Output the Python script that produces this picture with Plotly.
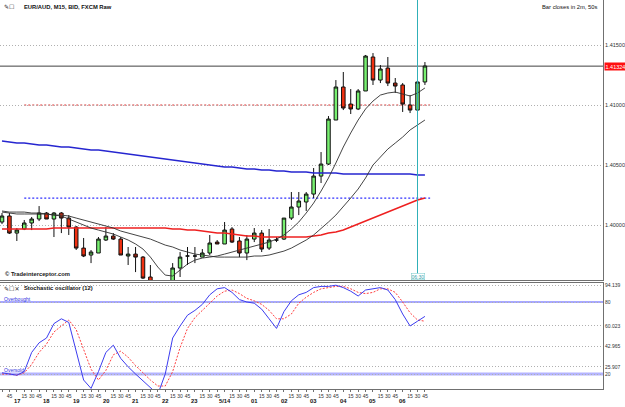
import plotly.graph_objects as go

# ---------------- data ----------------
bars = list(range(58))  # 15-minute bars from 16:30 to 06:45

opens = [1.40025, 1.40075, 1.39933, 1.39967, 1.40017, 1.40050, 1.40100, 1.40050, 1.40100, 1.40058,
         1.39983, 1.39808, 1.39750, 1.39767, 1.39875, 1.39908, 1.39883, 1.39742, 1.39758, 1.39733,
         1.39567, 1.39250, 1.39050, 1.39200, 1.39642, 1.39742, 1.39742, 1.39733, 1.39767, 1.39858,
         1.39842, 1.39967, 1.39867, 1.39767, 1.39883, 1.39933, 1.39808, 1.39875, 1.39883, 1.40058,
         1.40150, 1.40192, 1.40258, 1.40408, 1.40508, 1.40875, 1.41150, 1.41008, 1.40967, 1.41117,
         1.41400, 1.41208, 1.41308, 1.41183, 1.41167, 1.41000, 1.40958, 1.41192]
highs = [1.40100, 1.40100, 1.39975, 1.40042, 1.40067, 1.40158, 1.40108, 1.40108, 1.40108, 1.40083,
         1.39992, 1.39892, 1.39792, 1.39900, 1.39983, 1.39933, 1.39900, 1.39817, 1.39817, 1.39742,
         1.39667, 1.39380, 1.39300, 1.39683, 1.39775, 1.39817, 1.39817, 1.39800, 1.39917, 1.39875,
         1.40025, 1.39983, 1.39900, 1.39917, 1.39975, 1.39958, 1.39967, 1.39900, 1.40058, 1.40275,
         1.40275, 1.40275, 1.40475, 1.40608, 1.40908, 1.41208, 1.41275, 1.41133, 1.41133, 1.41417,
         1.41433, 1.41333, 1.41400, 1.41225, 1.41183, 1.41083, 1.41225, 1.41358]
lows = [1.40008, 1.39925, 1.39867, 1.39958, 1.39958, 1.40033, 1.40050, 1.39900, 1.39933, 1.39917,
        1.39792, 1.39733, 1.39683, 1.39767, 1.39867, 1.39875, 1.39750, 1.39667, 1.39608, 1.39550,
        1.39150, 1.38950, 1.38980, 1.39150, 1.39567, 1.39667, 1.39683, 1.39733, 1.39750, 1.39842,
        1.39842, 1.39850, 1.39733, 1.39708, 1.39858, 1.39775, 1.39792, 1.39858, 1.39875, 1.40042,
        1.40083, 1.40117, 1.40225, 1.40350, 1.40500, 1.40875, 1.40958, 1.40925, 1.40958, 1.41117,
        1.41167, 1.41183, 1.41158, 1.41100, 1.40942, 1.40933, 1.40900, 1.41167]
closes = [1.40075, 1.39933, 1.39958, 1.40017, 1.40050, 1.40100, 1.40050, 1.40100, 1.40058, 1.39983,
          1.39808, 1.39742, 1.39775, 1.39883, 1.39908, 1.39883, 1.39750, 1.39758, 1.39733, 1.39558,
          1.39250, 1.39050, 1.39200, 1.39642, 1.39733, 1.39742, 1.39742, 1.39767, 1.39850, 1.39842,
          1.39958, 1.39858, 1.39767, 1.39883, 1.39933, 1.39800, 1.39875, 1.39875, 1.40058, 1.40150,
          1.40200, 1.40258, 1.40408, 1.40508, 1.40883, 1.41150, 1.40975, 1.40967, 1.41117, 1.41408,
          1.41208, 1.41300, 1.41183, 1.41158, 1.41008, 1.40958, 1.41192, 1.41325]

ma_blue = [1.40700, 1.40692, 1.40683, 1.40683, 1.40675, 1.40667, 1.40667, 1.40658, 1.40650, 1.40650,
           1.40642, 1.40633, 1.40625, 1.40625, 1.40617, 1.40608, 1.40600, 1.40592, 1.40583, 1.40575,
           1.40567, 1.40558, 1.40550, 1.40542, 1.40533, 1.40525, 1.40517, 1.40508, 1.40500, 1.40492,
           1.40483, 1.40483, 1.40475, 1.40467, 1.40467, 1.40458, 1.40458, 1.40450, 1.40450, 1.40442,
           1.40442, 1.40442, 1.40433, 1.40433, 1.40433, 1.40433, 1.40425, 1.40425, 1.40425, 1.40425,
           1.40425, 1.40425, 1.40425, 1.40425, 1.40425, 1.40425, 1.40417, 1.40417]
ma_red = [1.39967, 1.39967, 1.39967, 1.39967, 1.39967, 1.39967, 1.39967, 1.39975, 1.39975, 1.39975,
          1.39975, 1.39975, 1.39975, 1.39975, 1.39975, 1.39975, 1.39975, 1.39975, 1.39975, 1.39975,
          1.39975, 1.39975, 1.39975, 1.39967, 1.39967, 1.39958, 1.39958, 1.39950, 1.39942, 1.39933,
          1.39933, 1.39925, 1.39917, 1.39908, 1.39908, 1.39900, 1.39900, 1.39900, 1.39900, 1.39900,
          1.39900, 1.39900, 1.39908, 1.39917, 1.39933, 1.39942, 1.39958, 1.39983, 1.40008, 1.40033,
          1.40058, 1.40083, 1.40108, 1.40133, 1.40158, 1.40183, 1.40208, 1.40225]
ma_fast = [1.40108, 1.40100, 1.40092, 1.40092, 1.40092, 1.40092, 1.40092, 1.40083, 1.40075, 1.40050,
           1.40025, 1.40000, 1.39975, 1.39958, 1.39942, 1.39925, 1.39900, 1.39875, 1.39842, 1.39800,
           1.39733, 1.39650, 1.39583, 1.39575, 1.39625, 1.39675, 1.39708, 1.39725, 1.39733, 1.39742,
           1.39758, 1.39775, 1.39792, 1.39808, 1.39825, 1.39842, 1.39858, 1.39883, 1.39917, 1.39967,
           1.40025, 1.40100, 1.40183, 1.40283, 1.40392, 1.40517, 1.40650, 1.40767, 1.40875, 1.40967,
           1.41033, 1.41083, 1.41100, 1.41108, 1.41092, 1.41075, 1.41100, 1.41142]
ma_slow = [1.40117, 1.40108, 1.40108, 1.40108, 1.40100, 1.40100, 1.40092, 1.40083, 1.40083, 1.40075,
           1.40058, 1.40042, 1.40025, 1.40008, 1.39992, 1.39975, 1.39950, 1.39933, 1.39917, 1.39900,
           1.39883, 1.39858, 1.39833, 1.39817, 1.39792, 1.39775, 1.39758, 1.39750, 1.39742, 1.39733,
           1.39733, 1.39733, 1.39733, 1.39733, 1.39742, 1.39742, 1.39750, 1.39767, 1.39783, 1.39808,
           1.39842, 1.39875, 1.39917, 1.39967, 1.40025, 1.40083, 1.40150, 1.40225, 1.40300, 1.40392,
           1.40500, 1.40567, 1.40633, 1.40683, 1.40733, 1.40792, 1.40833, 1.40875]

stoch_k = [21, 20, 19, 22, 38, 46, 50, 62, 66, 63, 40, 15, 8, 22, 38, 44, 33, 26, 20, 14,
           8, 3, 20, 50, 60, 69, 73, 78, 86, 91, 92, 88, 82, 80, 79, 74, 66, 58, 72, 81,
           86, 88, 92, 93, 93, 94, 92, 89, 85, 90, 91, 92, 90, 82, 70, 60, 64, 68]
stoch_d = [20, 20, 19, 21, 28, 38, 45, 55, 60, 65, 57, 40, 24, 15, 23, 36, 39, 34, 27, 21,
           15, 10, 10, 22, 42, 58, 67, 73, 79, 85, 89, 90, 87, 83, 81, 78, 73, 66, 66, 70,
           79, 84, 88, 91, 92, 93, 93, 91, 88, 87, 88, 91, 91, 88, 80, 71, 65, 64]

minute_labels = ["30", "45"] + ["", "15", "30", "45"] * 14
hour_labels = ["17", "18", "19", "20", "21", "22", "23", "5/14", "01", "02", "03", "04", "05", "06"]
hour_bars = [2, 6, 10, 14, 18, 22, 26, 30, 34, 38, 42, 46, 50, 54]

price_ticks = [1.40, 1.405, 1.41, 1.415]
price_tick_text = ["1.40000", "1.40500", "1.41000", "1.41500"]
stoch_ticks = [94.139, 80, 60.023, 42.965, 25.907, 20]
stoch_tick_text = ["94.139", "80", "60.023", "42.965", "25.907", "20"]
last_price = 1.41324
level_red = 1.41
level_blue = 1.40225
cursor_bar = 56

# ---------------- figure ----------------
H_PLOT = 389.0
def py(px):
    return 1 - px / H_PLOT

main_dom = [py(280), 1.0]
stoch_dom = [0.0, py(283)]
XR = [-0.27, 81.0]
FONT = "Liberation Sans"
GRID_DASH = "1px,2px"

fig = go.Figure()
fig.add_trace(go.Scatter(x=bars, y=ma_blue, mode="lines", line=dict(color="#2626d0", width=1.6),
                         xaxis="x", yaxis="y", hoverinfo="skip"))
fig.add_trace(go.Scatter(x=bars, y=ma_red, mode="lines", line=dict(color="#ee2020", width=1.6),
                         xaxis="x", yaxis="y", hoverinfo="skip"))
fig.add_trace(go.Scatter(x=bars, y=ma_slow, mode="lines", line=dict(color="#303030", width=0.9),
                         xaxis="x", yaxis="y", hoverinfo="skip"))
fig.add_trace(go.Scatter(x=bars, y=ma_fast, mode="lines", line=dict(color="#303030", width=0.9),
                         xaxis="x", yaxis="y", hoverinfo="skip"))
fig.add_trace(go.Candlestick(
    x=bars, open=opens, high=highs, low=lows, close=closes, xaxis="x", yaxis="y",
    increasing=dict(fillcolor="#78f070", line=dict(color="#101010", width=1)),
    decreasing=dict(fillcolor="#f03010", line=dict(color="#101010", width=1)),
    whiskerwidth=0))

fig.add_trace(go.Scatter(x=bars, y=stoch_d, mode="lines", line=dict(color="#ff4040", width=1, dash="2px,1.5px"),
                         xaxis="x2", yaxis="y2", hoverinfo="skip"))
fig.add_trace(go.Scatter(x=bars, y=stoch_k, mode="lines", line=dict(color="#3c3cf0", width=1),
                         xaxis="x2", yaxis="y2", hoverinfo="skip"))

shapes = [
    dict(type="line", xref="paper", yref="y", x0=0, x1=1, y0=last_price, y1=last_price,
         line=dict(color="#404040", width=1), layer="below"),
    dict(type="line", xref="x", yref="y", x0=3, x1=57.7, y0=level_red, y1=level_red,
         line=dict(color="#d83030", width=1, dash="2px,2px"), layer="below"),
    dict(type="line", xref="x", yref="y", x0=3, x1=57.7, y0=level_blue, y1=level_blue,
         line=dict(color="#3030ff", width=1.2, dash="2px,2px"), layer="below"),
    dict(type="line", xref="x", yref="paper", x0=cursor_bar, x1=cursor_bar, y0=main_dom[0], y1=1,
         line=dict(color="#30b0b8", width=1)),
    dict(type="line", xref="paper", yref="y2", x0=0, x1=1, y0=80, y1=80,
         line=dict(color="#5050ff", width=1), layer="below"),
    dict(type="line", xref="paper", yref="y2", x0=0, x1=1, y0=20, y1=20,
         line=dict(color="#b4b4ff", width=3), layer="below"),
]

ann = []
ann.append(dict(xref="paper", yref="paper", x=0.003, y=py(7), text="✎☐", showarrow=False,
                xanchor="left", yanchor="middle", font=dict(family="DejaVu Sans", size=6, color="#303030")))
ann.append(dict(xref="paper", yref="paper", x=22 / 603, y=py(7), text="<b>EUR/AUD, M15, BID, FXCM Raw</b>",
                showarrow=False, xanchor="left", yanchor="middle", font=dict(family=FONT, size=5.8, color="#101010")))
ann.append(dict(xref="paper", yref="paper", x=600 / 603, y=py(7), text="Bar closes in 2m, 50s",
                showarrow=False, xanchor="right", yanchor="middle", font=dict(family=FONT, size=5.8, color="#101010")))
ann.append(dict(xref="paper", yref="paper", x=3 / 603, y=py(274), text="<b>© Tradeinterceptor.com</b>",
                showarrow=False, xanchor="left", yanchor="middle", font=dict(family=FONT, size=5.8, color="#202020")))
ann.append(dict(xref="x", yref="paper", x=cursor_bar, y=py(276), text="06:30", showarrow=False,
                xanchor="center", yanchor="middle", font=dict(family=FONT, size=5, color="#30a0a8"),
                bgcolor="#ffffff", bordercolor="#70c8c8", borderwidth=0.5, borderpad=0))
ann.append(dict(xref="paper", yref="y", x=1.0, y=last_price, text="1.41324", showarrow=False,
                xanchor="left", yanchor="middle", xshift=1, font=dict(family=FONT, size=5.5, color="#ffffff"),
                bgcolor="#ff1010", borderpad=0.5))
ann.append(dict(xref="paper", yref="paper", x=0.003, y=py(288), text="✎☐✕", showarrow=False,
                xanchor="left", yanchor="middle", font=dict(family="DejaVu Sans", size=6, color="#303030")))
ann.append(dict(xref="paper", yref="paper", x=22 / 603, y=py(288), text="<b>Stochastic oscillator (12)</b>",
                showarrow=False, xanchor="left", yanchor="middle", font=dict(family=FONT, size=5.8, color="#101010")))
ann.append(dict(xref="paper", yref="y2", x=2 / 603, y=80, yshift=3, text="Overbought", showarrow=False,
                xanchor="left", yanchor="middle", font=dict(family=FONT, size=5, color="#3030e0")))
ann.append(dict(xref="paper", yref="y2", x=2 / 603, y=20, yshift=4, text="Oversold", showarrow=False,
                xanchor="left", yanchor="middle", font=dict(family=FONT, size=5, color="#3030e0")))
for b, t in zip(hour_bars, hour_labels):
    ann.append(dict(xref="x2", yref="paper", x=b, y=py(401), text="<b>" + t + "</b>", showarrow=False,
                    xanchor="center", yanchor="middle", font=dict(family=FONT, size=5.8, color="#101010")))

axis_line = dict(showline=True, linecolor="#707070", linewidth=1, mirror=True, zeroline=False)
fig.update_layout(
    width=625, height=407,
    margin=dict(l=0, r=22, t=0, b=18),
    paper_bgcolor="#ffffff", plot_bgcolor="#ffffff",
    showlegend=False, boxgap=0.32,
    shapes=shapes, annotations=ann,
    xaxis=dict(domain=[0, 1], range=XR, anchor="y", showticklabels=False, showgrid=False,
               rangeslider=dict(visible=False), ticks="", **axis_line),
    yaxis=dict(domain=main_dom, range=[1.39542, 1.41875], side="right", anchor="x",
               tickvals=price_ticks, ticktext=price_tick_text, showgrid=True,
               gridcolor="#b0b0b0", griddash=GRID_DASH, gridwidth=1, ticks="",
               tickfont=dict(family=FONT, size=5.5, color="#303030"), **axis_line),
    xaxis2=dict(domain=[0, 1], range=XR, anchor="y2", showgrid=False,
                tickvals=bars, ticktext=minute_labels, ticks="outside", ticklen=2, tickcolor="#707070",
                tickangle=0, tickfont=dict(family=FONT, size=5, color="#303030"), **axis_line),
    yaxis2=dict(domain=stoch_dom, range=[7.5, 95.83], side="right", anchor="x2",
                tickvals=stoch_ticks, ticktext=stoch_tick_text, showgrid=True,
                gridcolor="#b0b0b0", griddash=GRID_DASH, gridwidth=1, ticks="",
                tickfont=dict(family=FONT, size=5, color="#303030"), **axis_line),
)

fig.write_html("out.html")
